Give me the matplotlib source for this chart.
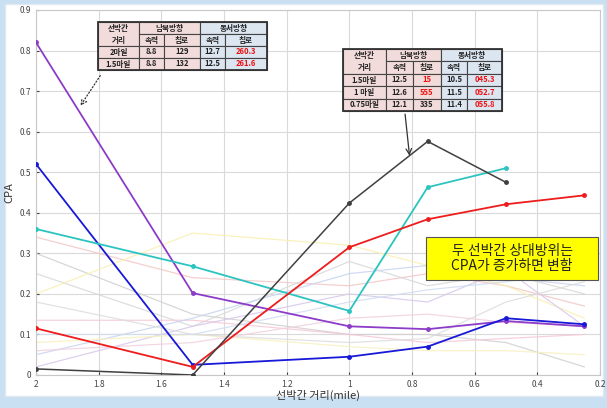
import matplotlib.pyplot as plt
from matplotlib.patches import Rectangle

plt.rcParams['font.family'] = ['Noto Sans CJK KR', 'DejaVu Sans']

W, H = 607, 408

# distance between ships (mile)
dist = [2, 1.5, 1, 0.75, 0.5, 0.25]

purple = [0.82, 0.202, 0.12, 0.113, 0.133, 0.12]
blue = [0.52, 0.025, 0.045, 0.07, 0.14, 0.125]
cyan = [0.36, 0.268, 0.158, 0.463, 0.51]
red = [0.115, 0.02, 0.315, 0.384, 0.421, 0.443]
black = [0.015, 0.0, 0.424, 0.576, 0.475]

# faint background runs
faint = [
    ([0.34, 0.24, 0.22, 0.25, 0.22, 0.17], '#f4c6c6'),
    ([0.30, 0.15, 0.10, 0.10, 0.08, 0.02], '#d0d0d0'),
    ([0.25, 0.12, 0.28, 0.22, 0.25, 0.20], '#d8d8d8'),
    ([0.20, 0.35, 0.32, 0.27, 0.22, 0.14], '#f8f0b0'),
    ([0.135, 0.135, 0.10, 0.08, 0.09, 0.10], '#f6c8d8'),
    ([0.05, 0.14, 0.25, 0.27, 0.24, 0.22], '#c8d4f0'),
    ([0.02, 0.12, 0.20, 0.18, 0.26, 0.12], '#d8c8ec'),
    ([0.08, 0.10, 0.07, 0.06, 0.06, 0.05], '#f8f0c0'),
    ([0.18, 0.10, 0.08, 0.09, 0.18, 0.23], '#dcdcdc'),
    ([0.06, 0.08, 0.14, 0.15, 0.13, 0.12], '#f0d0e0'),
    ([0.10, 0.10, 0.18, 0.21, 0.23, 0.26], '#d0dcf0'),
]

xticks = [2, 1.8, 1.6, 1.4, 1.2, 1, 0.8, 0.6, 0.4, 0.2]
xticklabels = ['2', '1.8', '1.6', '1.4', '1.2', '1', '0.8', '0.6', '0.4', '0.2']
yticks = [0, 0.1, 0.2, 0.3, 0.4, 0.5, 0.6, 0.7, 0.8, 0.9]
yticklabels = ['0', '0.1', '0.2', '0.3', '0.4', '0.5', '0.6', '0.7', '0.8', '0.9']

table1 = [
    ['2마일', '8.8', '129', '12.7', '260.3'],
    ['1.5마일', '8.8', '132', '12.5', '261.6'],
]
table1_red = [[False, False, False, False, True], [False, False, False, False, True]]
table2 = [
    ['1.5마일', '12.5', '15', '10.5', '045.3'],
    ['1 마일', '12.6', '555', '11.5', '052.7'],
    ['0.75마일', '12.1', '335', '11.4', '055.8'],
]
table2_red = [[False, False, True, False, True],
              [False, False, True, False, True],
              [False, False, False, False, True]]

PINK = '#f2dcdb'
LBLUE = '#dce6f1'


def fx(px):
    return px / W


def fy(py):
    return 1 - py / H


def box(fig, x0, y0, x1, y1, fc, ec='#444444', lw=0.8):
    fig.add_artist(Rectangle((fx(x0), fy(y1)), fx(x1) - fx(x0), fy(y0) - fy(y1),
                             transform=fig.transFigure, facecolor=fc,
                             edgecolor=ec, linewidth=lw, zorder=10))


def txt(fig, x, y, s, color='#222222', size=5.5):
    fig.text(fx(x), fy(y), s, ha='center', va='center', fontsize=size,
             color=color, fontweight='bold', zorder=11)


def draw_table(fig, x, y, colw, rowh, rows, reds):
    cols = [x]
    for w in colw:
        cols.append(cols[-1] + w)
    fills = [PINK, PINK, PINK, LBLUE, LBLUE]
    # header
    box(fig, cols[0], y, cols[1], y + 2 * rowh, PINK)
    txt(fig, (cols[0] + cols[1]) / 2, y + 0.5 * rowh, '선박간')
    txt(fig, (cols[0] + cols[1]) / 2, y + 1.5 * rowh, '거리')
    box(fig, cols[1], y, cols[3], y + rowh, PINK)
    txt(fig, (cols[1] + cols[3]) / 2, y + 0.5 * rowh, '남북방향')
    box(fig, cols[3], y, cols[5], y + rowh, LBLUE)
    txt(fig, (cols[3] + cols[5]) / 2, y + 0.5 * rowh, '동서방향')
    for j, lab in enumerate(['속력', '침로', '속력', '침로']):
        box(fig, cols[j + 1], y + rowh, cols[j + 2], y + 2 * rowh, fills[j + 1])
        txt(fig, (cols[j + 1] + cols[j + 2]) / 2, y + 1.5 * rowh, lab)
    for i, row in enumerate(rows):
        yy = y + (i + 2) * rowh
        for j, val in enumerate(row):
            box(fig, cols[j], yy, cols[j + 1], yy + rowh, fills[j])
            txt(fig, (cols[j] + cols[j + 1]) / 2, yy + rowh / 2, val,
                color='#ee1111' if reds[i][j] else '#222222')
    # outer frame
    box(fig, cols[0], y, cols[-1], y + (len(rows) + 2) * rowh, 'none', ec='#333333', lw=1.3)


fig = plt.figure(figsize=(W / 100, H / 100), dpi=100)
fig.patch.set_facecolor('#c9e0f3')
fig.add_artist(Rectangle((0.008, 0.03), 0.985, 0.96, transform=fig.transFigure,
                         facecolor='white', edgecolor='#e0e8f0', zorder=0))

ax = fig.add_axes([fx(36), fy(375), fx(600) - fx(36), fy(10) - fy(375)])
ax.set_facecolor('white')

for vals, c in faint:
    ax.plot(dist[:len(vals)], vals, color=c, lw=0.9, alpha=0.85, zorder=2)

ax.plot(dist, purple, color='#8c3cc8', lw=1.3, marker='o', ms=2.5, zorder=4)
ax.plot(dist, blue, color='#1818d8', lw=1.3, marker='o', ms=2.5, zorder=4)
ax.plot(dist[:len(cyan)], cyan, color='#2cc4c0', lw=1.3, marker='o', ms=2.5, zorder=4)
ax.plot(dist, red, color='#ee1c1c', lw=1.3, marker='o', ms=2.5, zorder=4)
ax.plot(dist[:len(black)], black, color='#404040', lw=1.1, marker='o', ms=2.5, zorder=4)

ax.set_xlim(2, 0.2)
ax.set_ylim(0, 0.9)
ax.set_xticks(xticks)
ax.set_xticklabels(xticklabels)
ax.set_yticks(yticks)
ax.set_yticklabels(yticklabels)
ax.tick_params(labelsize=6, colors='#444444', length=2, direction='in')
ax.grid(True, color='#dadada', lw=0.8, ls='-')
ax.set_axisbelow(True)
for s in ax.spines.values():
    s.set_color('#c8c8c8')
ax.set_ylabel('CPA', fontsize=8, color='#333333', labelpad=4)
ax.set_xlabel('선박간 거리(mile)', fontsize=8, color='#333333', labelpad=1)

# annotations
ax.annotate('', xy=(1.863, 0.658), xytext=(1.79, 0.744),
            arrowprops=dict(arrowstyle='->', color='#333333', lw=0.9, ls=':'), zorder=6)
ax.annotate('', xy=(0.807, 0.534), xytext=(0.823, 0.65),
            arrowprops=dict(arrowstyle='->', color='#333333', lw=0.9), zorder=6)

draw_table(fig, 98, 22, [41, 25, 36, 25, 42], 12, table1, table1_red)
draw_table(fig, 343, 49, [43, 27, 28, 26, 35], 12.4, table2, table2_red)

box(fig, 426, 237, 598, 280, '#ffff00', ec='#555555', lw=0.8)
fig.text(fx(512), fy(258.5), '두 선박간 상대방위는\nCPA가 증가하면 변함', ha='center', va='center',
         fontsize=10, color='#222222', linespacing=1.1, zorder=11)

fig.savefig('out.png', dpi=100, facecolor=fig.get_facecolor())
